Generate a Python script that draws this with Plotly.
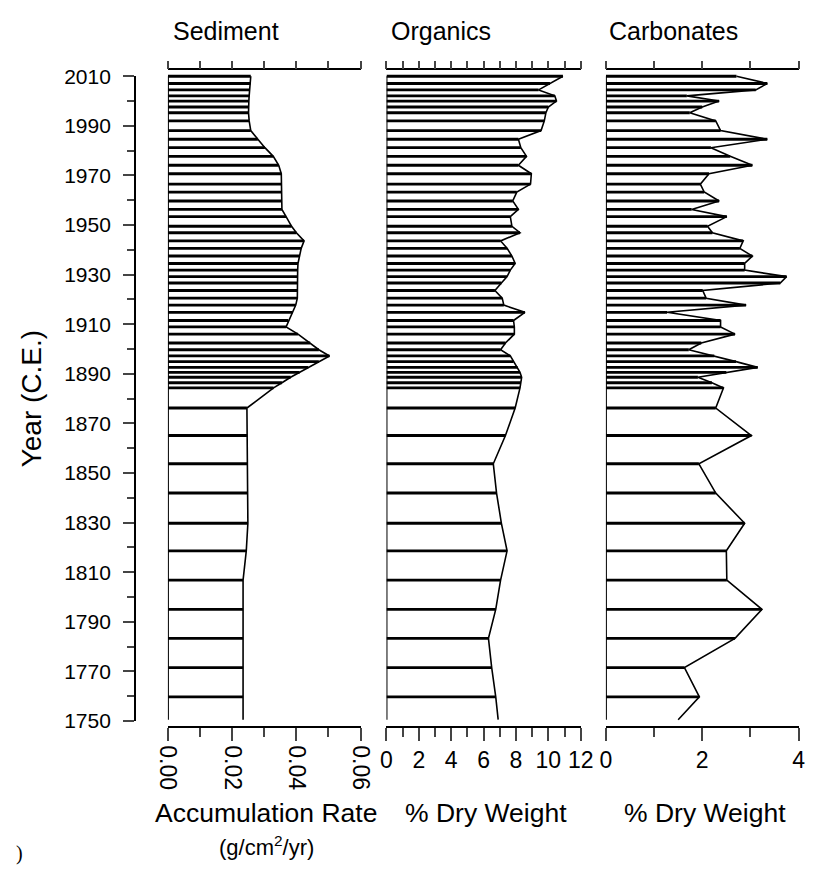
import plotly.graph_objects as go

W, H = 822, 877

# ---- data ----
years = [2010.0, 2007.1, 2004.5, 2002.1, 2000.0, 1997.6, 1995.3, 1992.0, 1988.1, 1984.6,
         1981.2, 1977.7, 1974.1, 1970.7, 1966.5, 1963.3, 1959.7, 1956.3, 1953.4, 1949.5,
         1946.9, 1943.6, 1940.6, 1937.5, 1934.5, 1931.8, 1929.2, 1926.6, 1923.6, 1920.5,
         1917.7, 1914.8, 1911.5, 1908.9, 1906.0, 1902.4, 1899.7, 1897.2, 1894.9, 1892.6,
         1890.6, 1888.6, 1886.4, 1884.3,
         1876.2, 1865.1, 1853.7, 1841.9, 1829.7, 1818.6, 1806.8, 1795.0, 1783.3, 1771.5,
         1759.7, 1750.5]

sediment = [0.0258, 0.0257, 0.0255, 0.0253, 0.0252, 0.0251, 0.0251, 0.0253, 0.0258, 0.0280,
            0.0302, 0.0328, 0.0345, 0.0353, 0.0353, 0.0353, 0.0353, 0.0355, 0.0368, 0.0385,
            0.0400, 0.0424, 0.0415, 0.0410, 0.0405, 0.0404, 0.0404, 0.0404, 0.0404, 0.0403,
            0.0398, 0.0388, 0.0375, 0.0368, 0.0405, 0.0443, 0.0470, 0.0503, 0.0470, 0.0437,
            0.0410, 0.0382, 0.0355, 0.0329,
            0.0246, 0.0247, 0.0248, 0.0249, 0.0249, 0.0244, 0.0234, 0.0234, 0.0234, 0.0234,
            0.0234, 0.0234]

organics = [10.9, 10.1, 9.4, 10.4, 10.5, 10.0, 9.85, 9.75, 9.55, 8.15,
            8.3, 8.65, 8.15, 8.95, 8.9, 8.05, 7.8, 8.15, 7.65, 7.75,
            8.25, 7.05, 7.45, 7.75, 7.95, 7.65, 7.45, 7.1, 6.7, 7.15,
            7.25, 8.55, 7.85, 7.9, 7.9, 7.35, 7.05, 7.65, 7.85, 8.1,
            8.25, 8.35, 8.3, 8.25,
            7.95, 7.35, 6.6, 6.8, 7.1, 7.45, 7.05, 6.75, 6.3, 6.5,
            6.75, 6.9]

carbonates = [2.71, 3.35, 3.11, 1.68, 2.35, 2.0, 1.74, 2.28, 2.38, 3.35,
              2.18, 2.58, 3.04, 2.14, 1.96, 2.04, 2.35, 1.78, 2.51, 2.11,
              2.21, 2.85, 2.78, 3.04, 2.88, 2.88, 3.75, 3.62, 2.01, 2.08,
              2.91, 1.27, 2.38, 2.38, 2.68, 1.98, 1.72, 2.25, 2.7, 3.15,
              2.5, 1.91, 2.2, 2.44,
              2.28, 3.02, 1.93, 2.28, 2.88, 2.5, 2.51, 3.24, 2.68, 1.63,
              1.94, 1.5]

panel_titles = ["Sediment", "Organics", "Carbonates"]
x_titles = ["Accumulation Rate", "% Dry Weight", "% Dry Weight"]
sed_ticks = [0, 0.02, 0.04, 0.06]
sed_ticktext = ["0.00", "0.02", "0.04", "0.06"]
org_ticks = [0, 2, 4, 6, 8, 10, 12]
carb_ticks = [0, 2, 4]
year_ticks = list(range(1750, 2011, 20))

# ---- geometry helpers (pixels -> paper) ----
def px(x):
    return x / W

def py(y):
    return (H - y) / H

FONT = "Liberation Sans, Arial, sans-serif"
panels_px = [(161, 360), (386.7, 587.3), (613.3, 812.3)]
ranges = [[0, 0.06], [0, 12], [0, 4]]
series = [sediment, organics, carbonates]

y_top_px, y_bot_px = 66, 728          # 2010 and 1750
ppy = (y_bot_px - y_top_px) / 260.0
ax_top_px, ax_bot_px = 59, 734
data_range = [1750 - (ax_bot_px - y_bot_px) / ppy, 2010 + (y_top_px - ax_top_px) / ppy]

fig = go.Figure()

for i, vals in enumerate(series):
    xa = "x" if i == 0 else f"x{i+1}"
    # horizontal sample bars
    fig.add_trace(go.Bar(x=vals[:-1], y=years[:-1], orientation="h", width=1.15,
                         marker=dict(color="black", line=dict(width=0)),
                         xaxis=xa, yaxis="y2", showlegend=False, hoverinfo="skip"))
    # profile line
    fig.add_trace(go.Scatter(x=vals, y=years, mode="lines",
                             line=dict(color="black", width=1.6),
                             xaxis=xa, yaxis="y2", showlegend=False, hoverinfo="skip"))
    # zero line
    fig.add_trace(go.Scatter(x=[0, 0], y=[years[-1], years[0]], mode="lines",
                             line=dict(color="black", width=2),
                             xaxis=xa, yaxis="y2", showlegend=False, hoverinfo="skip"))
    # dummy trace for top axis
    fig.add_trace(go.Scatter(x=[None], y=[None], xaxis=f"x{i+4}", yaxis="y2",
                             showlegend=False, hoverinfo="skip"))

# dummy trace for year axis
fig.add_trace(go.Scatter(x=[None], y=[None], xaxis="x", yaxis="y",
                         showlegend=False, hoverinfo="skip"))

layout = dict(
    width=W, height=H,
    margin=dict(l=0, r=0, t=0, b=0),
    paper_bgcolor="white", plot_bgcolor="rgba(0,0,0,0)",
    font=dict(family=FONT, color="black"),
    barmode="overlay",
)

# year axis
layout["yaxis"] = dict(
    domain=[py(y_bot_px), py(y_top_px)], range=[1750, 2010],
    anchor="free", position=px(127), side="left",
    tickmode="array", tickvals=year_ticks, ticks="outside", ticklen=11, tickwidth=1.8,
    minor=dict(dtick=10, tick0=1750, ticks="outside", ticklen=7, tickwidth=1.8, showgrid=False),
    showline=True, linewidth=1.8, linecolor="black",
    showgrid=False, zeroline=False, tickfont=dict(size=21, family=FONT),
    ticklabelstandoff=8,
    title=dict(text="Year (C.E.)", font=dict(size=28, family=FONT), standoff=13),
    fixedrange=True,
)
layout["yaxis2"] = dict(
    domain=[py(ax_bot_px), py(ax_top_px)], range=data_range,
    anchor="free", position=px(161), visible=False, fixedrange=True,
)

for i in range(3):
    x0, x1 = panels_px[i]
    name = "xaxis" if i == 0 else f"xaxis{i+1}"
    bottom = dict(
        domain=[px(x0), px(x1)], range=ranges[i],
        anchor="free", position=py(ax_bot_px), side="bottom",
        showline=True, linewidth=1.8, linecolor="black",
        ticks="outside", ticklen=13, tickwidth=1.8,
        showgrid=False, zeroline=False, fixedrange=True,
        tickfont=dict(size=23, family=FONT),
    )
    if i == 0:
        bottom.update(tickmode="array", tickvals=sed_ticks, ticktext=sed_ticktext, tickangle=90,
                      minor=dict(dtick=0.01, tick0=0, ticks="outside", ticklen=9, tickwidth=1.8, showgrid=False))
    elif i == 1:
        bottom.update(tickmode="array", tickvals=org_ticks, tickangle=0,
                      minor=dict(dtick=1, tick0=0, ticks="outside", ticklen=9, tickwidth=1.8, showgrid=False))
    else:
        bottom.update(tickmode="array", tickvals=carb_ticks, tickangle=0,
                      minor=dict(dtick=1, tick0=0, ticks="outside", ticklen=9, tickwidth=1.8, showgrid=False))
    layout[name] = bottom
    top_dtick = [0.01, 1, 1][i]
    layout[f"xaxis{i+4}"] = dict(
        domain=[px(x0), px(x1)], range=ranges[i],
        anchor="free", position=py(ax_top_px), side="top", overlaying=("x" if i == 0 else f"x{i+1}"),
        showline=True, linewidth=1.8, linecolor="black",
        tickmode="linear", tick0=0, dtick=top_dtick, ticks="outside", ticklen=8, tickwidth=1.8,
        showticklabels=False, showgrid=False, zeroline=False, fixedrange=True,
    )

fig.update_layout(**layout)

title_x = [164, 389, 614]
for t, xx in zip(panel_titles, title_x):
    fig.add_annotation(text=t, x=px(xx), y=py(20), xref="paper", yref="paper",
                       xanchor="left", yanchor="middle", showarrow=False,
                       font=dict(size=25, family=FONT))

bottom_x = [262, 489, 716]
for t, xx in zip(x_titles, bottom_x):
    fig.add_annotation(text=t, x=px(xx), y=py(823), xref="paper", yref="paper",
                       xanchor="center", yanchor="middle", showarrow=False,
                       font=dict(size=26.5, family=FONT))
fig.add_annotation(text="(g/cm<sup>2</sup>/yr)", x=px(263), y=py(856), xref="paper", yref="paper",
                   xanchor="center", yanchor="middle", showarrow=False,
                   font=dict(size=22, family=FONT))
fig.add_annotation(text=")", x=px(2), y=py(864), xref="paper", yref="paper",
                   xanchor="left", yanchor="middle", showarrow=False,
                   font=dict(size=20, family="Liberation Serif, serif"))

fig.write_html("out.html")
